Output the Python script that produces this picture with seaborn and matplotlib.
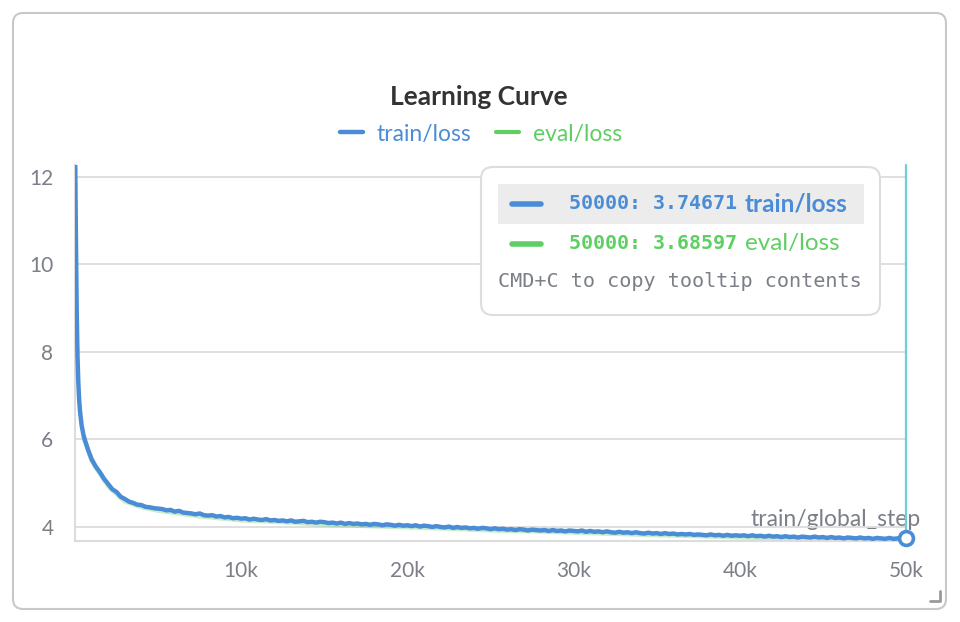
import pandas as pd
import seaborn as sns
import matplotlib.pyplot as plt
from matplotlib.patches import FancyBboxPatch, Rectangle
from matplotlib.lines import Line2D
from matplotlib.transforms import IdentityTransform

# train/loss (dense at the start where it drops fast)
train_steps = [0, 50, 100, 150, 200, 250, 300, 400, 500, 600, 800, 1000,
               1250, 1500, 1750, 2000, 2250, 2500, 2750, 3000, 3250, 3500, 3750,
               4000, 4250, 4500, 4750,
               5000, 5250, 5500, 5750, 6000, 6250, 6500, 6750, 7000, 7250,
               7500, 7750, 8000, 8250, 8500, 8750, 9000, 9250, 9500, 9750,
               10000, 10250, 10500, 10750, 11000, 11250, 11500, 11750, 12000, 12250,
               12500, 12750, 13000, 13250, 13500, 13750, 14000, 14250, 14500, 14750,
               15000, 15250, 15500, 15750, 16000, 16250, 16500, 16750, 17000, 17250,
               17500, 17750, 18000, 18250, 18500, 18750, 19000, 19250, 19500, 19750,
               20000, 20250, 20500, 20750, 21000, 21250, 21500, 21750, 22000, 22250,
               22500, 22750, 23000, 23250, 23500, 23750, 24000, 24250, 24500, 24750,
               25000, 25250, 25500, 25750, 26000, 26250, 26500, 26750, 27000, 27250,
               27500, 27750, 28000, 28250, 28500, 28750, 29000, 29250, 29500, 29750,
               30000, 30250, 30500, 30750, 31000, 31250, 31500, 31750, 32000, 32250,
               32500, 32750, 33000, 33250, 33500, 33750, 34000, 34250, 34500, 34750,
               35000, 35250, 35500, 35750, 36000, 36250, 36500, 36750, 37000, 37250,
               37500, 37750, 38000, 38250, 38500, 38750, 39000, 39250, 39500, 39750,
               40000, 40250, 40500, 40750, 41000, 41250, 41500, 41750, 42000, 42250,
               42500, 42750, 43000, 43250, 43500, 43750, 44000, 44250, 44500, 44750,
               45000, 45250, 45500, 45750, 46000, 46250, 46500, 46750, 47000, 47250,
               47500, 47750, 48000, 48250, 48500, 48750, 49000, 49250, 49500, 49750,
               50000]
train_loss = [12.9, 10.8, 9.0, 7.9, 7.3, 6.9, 6.65, 6.32, 6.12, 5.98, 5.75, 5.55,
              5.38, 5.25, 5.10, 4.98, 4.86, 4.80, 4.69, 4.64, 4.58, 4.55, 4.51,
              4.50, 4.46, 4.45, 4.43,
              4.42, 4.41, 4.38, 4.39, 4.35, 4.37, 4.33, 4.32, 4.31, 4.29,
              4.31, 4.27, 4.26, 4.27, 4.24, 4.25, 4.22, 4.23, 4.20, 4.21,
              4.19, 4.20, 4.17, 4.19, 4.17, 4.16, 4.18, 4.15, 4.16, 4.14,
              4.15, 4.13, 4.15, 4.12, 4.13, 4.14, 4.11, 4.12, 4.10, 4.12,
              4.11, 4.09, 4.10, 4.08, 4.10, 4.07, 4.09, 4.07, 4.08, 4.06,
              4.07, 4.05, 4.07, 4.06, 4.04, 4.06, 4.05, 4.03, 4.05, 4.03,
              4.04, 4.02, 4.04, 4.01, 4.03, 4.02, 4.00, 4.02, 4.00, 3.99,
              4.01, 3.98, 4.00, 3.98, 3.99, 3.97, 3.98, 3.96, 3.98, 3.97,
              3.95, 3.97, 3.95, 3.96, 3.94, 3.95, 3.93, 3.95, 3.94, 3.92,
              3.94, 3.93, 3.92, 3.93, 3.91, 3.93, 3.91, 3.92, 3.90, 3.92,
              3.91, 3.90, 3.92, 3.89, 3.91, 3.89, 3.90, 3.88, 3.90, 3.88,
              3.87, 3.89, 3.87, 3.88, 3.86, 3.88, 3.86, 3.85, 3.87, 3.85,
              3.86, 3.84, 3.86, 3.84, 3.85, 3.83, 3.84, 3.83, 3.84, 3.82,
              3.83, 3.82, 3.81, 3.83, 3.81, 3.82, 3.80, 3.82, 3.80, 3.81,
              3.80, 3.81, 3.79, 3.81, 3.79, 3.80, 3.78, 3.80, 3.78, 3.79,
              3.77, 3.79, 3.77, 3.78, 3.76, 3.78, 3.77, 3.76, 3.78, 3.76,
              3.77, 3.75, 3.77, 3.75, 3.76, 3.74, 3.76, 3.75, 3.74, 3.76,
              3.74, 3.75, 3.73, 3.75, 3.74, 3.73, 3.75, 3.73, 3.74, 3.73,
              3.74671]

# eval/loss sits just under the train curve
eval_steps = [500, 1000, 2000, 3000, 4000, 5000, 7500, 10000, 12500, 15000, 17500, 20000,
              22500, 25000, 27500, 30000, 32500, 35000, 37500, 40000, 42500, 45000, 47500, 50000]
eval_loss = [6.05, 5.50, 4.92, 4.58, 4.45, 4.37, 4.24, 4.15, 4.11, 4.05, 4.02, 3.99,
             3.96, 3.92, 3.90, 3.87, 3.84, 3.81, 3.79, 3.76, 3.74, 3.72, 3.70, 3.68597]

y_ticks = [4, 6, 8, 10, 12]
x_ticks = [10000, 20000, 30000, 40000, 50000]
x_tick_labels = ['10k', '20k', '30k', '40k', '50k']

blue = '#4a8dd6'
green = '#5fcf63'
grey_txt = '#7c7f88'
light = '#dcdcdc'

sns.set_theme(style='white')
plt.rcParams['font.family'] = ['Lato', 'DejaVu Sans']

fig = plt.figure(figsize=(9.6, 6.22), dpi=100)
ax = fig.add_axes([75 / 960, 81 / 622, 831 / 960, 376 / 622])

train_df = pd.DataFrame({'step': train_steps, 'loss': train_loss})
eval_df = pd.DataFrame({'step': eval_steps, 'loss': eval_loss})

sns.lineplot(data=eval_df, x='step', y='loss', ax=ax, color=green, linewidth=3,
             alpha=0.35, label='eval/loss', zorder=2)
sns.lineplot(data=train_df, x='step', y='loss', ax=ax, color=blue, linewidth=3.2,
             label='train/loss', zorder=3)

# hover line at the last step (sits on the right edge, so don't clip it)
ax.axvline(train_steps[-1], color='#6cd0d4', lw=1.6, zorder=4, clip_on=False)
ax.plot([train_steps[-1]], [train_loss[-1]], 'o', ms=10, mfc='white', mec=blue,
        mew=2.6, clip_on=False, zorder=6)

ax.set_xlim(0, 50000)
ax.set_ylim(3.68, 12.27)
ax.set_yticks(y_ticks)
ax.set_yticklabels([str(v) for v in y_ticks])
ax.set_xticks(x_ticks)
ax.set_xticklabels(x_tick_labels)
ax.tick_params(axis='both', length=7.5, width=1.3, color=light, labelcolor=grey_txt,
               labelsize=15)
ax.tick_params(axis='y', pad=8)
ax.tick_params(axis='x', pad=7)
ax.yaxis.grid(True, color=light, lw=1.3)
ax.xaxis.grid(False)
for s in ['top', 'right']:
    ax.spines[s].set_visible(False)
for s in ['left', 'bottom']:
    ax.spines[s].set_color(light)
    ax.spines[s].set_linewidth(1.5)

ax.set_ylabel('')
ax.set_xlabel('train/global_step', fontsize=16.5, color=grey_txt)
ax.xaxis.set_label_coords(1.018, 0.058)
ax.xaxis.label.set_ha('right')
ax.xaxis.label.set_va('center')

# legend above the plot, text coloured like the lines
handles, labels = ax.get_legend_handles_labels()
order = [labels.index('train/loss'), labels.index('eval/loss')]
leg = ax.legend([handles[i] for i in order], [labels[i] for i in order],
                loc='center', bbox_to_anchor=(481 / 960, 1 - 134 / 622),
                bbox_transform=fig.transFigure, ncol=2, frameon=False, fontsize=16.5,
                handlelength=1.0, handletextpad=0.6, columnspacing=1.1)
for txt, ln in zip(leg.get_texts(), leg.get_lines()):
    ln.set_alpha(1)
    txt.set_color(ln.get_color())

fig.text(479 / 960, 1 - 97 / 622, 'Learning Curve', ha='center', va='center',
         fontsize=19, fontweight='bold', color='#333333')

# panel border and tooltip, placed in pixel coordinates
px = IdentityTransform()
fig.add_artist(FancyBboxPatch((13, 622 - 609), 933, 596,
                              boxstyle='round,pad=0,rounding_size=10',
                              transform=px, fc='none', ec='#c8c8c8', lw=1.5))
fig.add_artist(Line2D([930, 940, 940], [622 - 601, 622 - 601, 622 - 591],
                      transform=px, color='#999999', lw=2))

fig.add_artist(FancyBboxPatch((481, 622 - 315), 399, 148,
                              boxstyle='round,pad=0,rounding_size=12',
                              transform=px, fc='white', ec='#dddddd', lw=1.5, zorder=10))
fig.add_artist(Rectangle((498, 622 - 224), 366, 40, transform=px, fc='#ececec',
                         ec='none', zorder=11))
rows = [(train_steps[-1], train_loss[-1], 'train/loss', blue, 'bold', 203.5),
        (eval_steps[-1], eval_loss[-1], 'eval/loss', green, 'normal', 243.5)]
for step, val, name, col, w, yy in rows:
    fig.add_artist(Line2D([512, 541], [622 - yy, 622 - yy], transform=px, color=col,
                          lw=4, solid_capstyle='round', zorder=12))
    fig.text(569, 622 - yy, f'{step}:{val:.5f}'.replace(':', ': '), transform=px,
             ha='left', va='center', fontsize=14.4, fontweight='bold', color=col,
             family='DejaVu Sans Mono', zorder=12)
    fig.text(745, 622 - yy, name, transform=px, ha='left', va='center', fontsize=17.5,
             fontweight=w, color=col, zorder=12)
fig.text(498, 622 - 281.5, 'CMD+C to copy tooltip contents', transform=px, ha='left',
         va='center', fontsize=14.5, color=grey_txt, family='DejaVu Sans Mono', zorder=12)

fig.savefig('out.png', dpi=100)
